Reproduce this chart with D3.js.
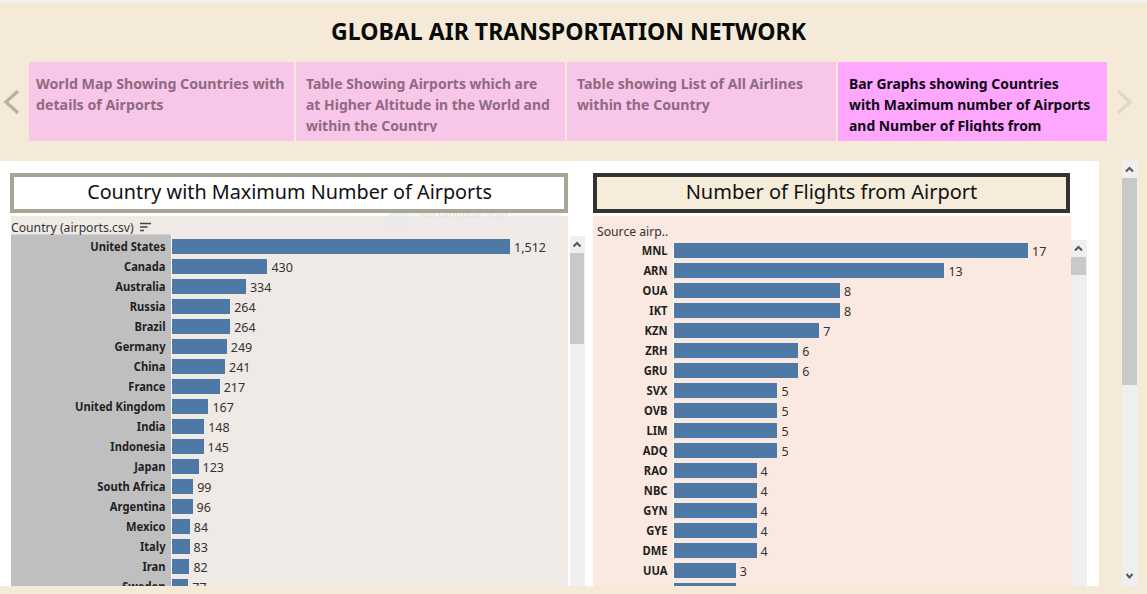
<!DOCTYPE html>
<html><head><meta charset="utf-8">
<script src="https://cdn.jsdelivr.net/npm/d3@7/dist/d3.min.js"></script>
<style>
html,body{margin:0;padding:0;background:#f5ead8;overflow:hidden}
svg{display:block}
text{font-family:"Noto Sans",sans-serif}
.lab text{font-weight:700;font-size:12px;fill:#1f1f1f}
.val{font-size:12.5px;fill:#333}
</style></head><body>
<svg id="c" width="1147" height="594"></svg>
<script>
const countries=["United States","Canada","Australia","Russia","Brazil","Germany","China","France","United Kingdom","India","Indonesia","Japan","South Africa","Argentina","Mexico","Italy","Iran","Sweden"];
const airportCounts=[1512,430,334,264,264,249,241,217,167,148,145,123,99,96,84,83,82,77];
const sourceAirports=["MNL","ARN","OUA","IKT","KZN","ZRH","GRU","SVX","OVB","LIM","ADQ","RAO","NBC","GYN","GYE","DME","UUA"," "];
const flightCounts=[17,13,8,8,7,6,6,5,5,5,5,4,4,4,4,4,3,3];
const tabs=[
 ["World Map Showing Countries with","details of Airports"],
 ["Table Showing Airports which are","at Higher Altitude in the World and","within the Country"],
 ["Table showing List of All Airlines","within the Country"],
 ["Bar Graphs showing Countries","with Maximum number of Airports","and Number of Flights from"]];
const svg=d3.select("#c");
const R=(g,x,y,w,h,f)=>g.append("rect").attr("x",x).attr("y",y).attr("width",w).attr("height",h).attr("fill",f);
const fmt=d3.format(",");
// narrow a text horizontally, as the reference's condensed face is narrower than Noto Sans
const squeeze=(sel,k)=>sel.each(function(){this.setAttribute("textLength",this.getComputedTextLength()*k);this.setAttribute("lengthAdjust","spacingAndGlyphs");});
R(svg,0,0,1147,2,"#f2f2f2");
R(svg,0,2,1147,592,"#f5ead8");
svg.append("text").attr("x",568.5).attr("y",40).attr("text-anchor","middle").style("font-size","24px").style("font-weight",700).attr("fill","#0a0a0a").attr("textLength",475).attr("lengthAdjust","spacingAndGlyphs").text("GLOBAL AIR TRANSPORTATION NETWORK");
// tabs
const tabX=[29,296,567,838],tabW=[265,269,269,269],tabPad=[7,10,10,11],tabSqueeze=[.947,.93,.942,.928];
const defs=svg.append("defs");
tabs.forEach((t,i)=>{
 const active=i===3;
 defs.append("clipPath").attr("id","t"+i).append("rect").attr("x",tabX[i]).attr("y",62).attr("width",tabW[i]).attr("height",70);
 R(svg,tabX[i],62,tabW[i],79,active?"#ffa6ff":"#f8c6e8");
 const g=svg.append("g").attr("clip-path",`url(#t${i})`);
 t.forEach((s,j)=>g.append("text").attr("x",tabX[i]+tabPad[i]).attr("y",89+21*j).style("font-size","15px").style("font-weight",700).attr("fill",active?"#0d0a14":"#8f6a80").text(s).call(squeeze,tabSqueeze[i]));
});
const chev=(pts,c)=>svg.append("path").attr("d",d3.line()(pts)).attr("fill","none").attr("stroke",c).attr("stroke-width",3.5);
chev([[18,91],[6,102],[18,113]],"#b5b3a8");
chev([[1118,91],[1130,102],[1118,113]],"#dcd9cc");
// white content
R(svg,0,161,1099,425,"#fff");
// headers
function head(x,w,fill,stroke,sw,txt,tx,size){
 svg.append("rect").attr("x",x+sw/2).attr("y",173+sw/2).attr("width",w-sw).attr("height",40-sw).attr("fill",fill).attr("stroke",stroke).attr("stroke-width",sw);
 svg.append("text").attr("x",tx).attr("y",199).attr("text-anchor","middle").style("font-size",size+"px").attr("fill","#111").text(txt);
}
head(10,558,"#fff","#a9a596",4,"Country with Maximum Number of Airports",289.5,19.8);
head(593,477,"#f5ecda","#333333",4,"Number of Flights from Airport",831.5,20);
// chart panels
function panel(o){
 R(svg,o.px,216,o.pw,370,o.bg);
 if(o.labBg)R(svg,o.px,o.top-2,o.labW,586-o.top+2,o.labBg);
 const y=d3.scaleBand().domain(o.cats).range([o.top,o.top+20*o.cats.length]).paddingInner(.25).paddingOuter(.125);
 const x=d3.scaleLinear().domain([0,o.max]).range([0,o.barW]);
 const g=svg.append("g");
 const ax=g.append("g").attr("class","lab").attr("transform",`translate(${o.ax-.5},.8)`).call(d3.axisLeft(y).tickSize(0).tickPadding(5));
 ax.select(".domain").remove();
 ax.selectAll("text").call(squeeze,.93);
 g.selectAll(".b").data(o.cats).join("rect").attr("x",o.bx).attr("y",d=>y(d)).attr("height",y.bandwidth()).attr("width",(d,i)=>x(o.vals[i])).attr("fill","#4e79a7").attr("shape-rendering","crispEdges");
 g.selectAll(".val").data(o.cats).join("text").attr("class","val").attr("x",(d,i)=>o.bx+x(o.vals[i])+4).attr("y",d=>y(d)+y.bandwidth()/2+5.2).text((d,i)=>fmt(o.vals[i]));
 g.append("line").attr("x1",o.ax+.5).attr("x2",o.ax+.5).attr("y1",o.top-2).attr("y2",586).attr("stroke","#fff");
}
panel({px:11,pw:557,bg:"#efeae6",labBg:"#bfbfbf",labW:160,top:236.5,ax:171,bx:171,barW:339,max:1512,cats:countries,vals:airportCounts});
panel({px:593,pw:478,bg:"#f9e9e0",top:240.5,ax:673,bx:673,barW:355,max:17,cats:sourceAirports,vals:flightCounts});
// faint screen-snip tooltip left in the screenshot
defs.append("clipPath").attr("id","snip").append("rect").attr("x",388).attr("y",213).attr("width",174).attr("height",12);
const snip=svg.append("g").attr("clip-path","url(#snip)");
R(snip,388,213,174,3,"#f7f7f7");
R(snip,388,216,174,9,"#eeebe8");
R(snip,388,213,22,3,"#f1f2f5");
R(snip,388,216,22,9,"#eaeaec");
snip.append("text").attr("x",420).attr("y",218).style("font-size","11px").attr("fill","#e6e3e0").text("Rectangular Snip");
svg.append("text").attr("x",11).attr("y",232).style("font-size","12.2px").attr("fill","#333").text("Country (airports.csv)");
svg.append("path").attr("d","M140 223.5h11M140 227h7.5M140 230.5h4").attr("stroke","#444").attr("stroke-width",1.5);
svg.append("text").attr("x",597).attr("y",236).style("font-size","12.2px").attr("fill","#333").text("Source airp..");
// scrollbars
function sb(x,w,y0,t0,t1){
 R(svg,x,y0,w,586-y0,"#efefef");
 R(svg,x,t0,w-1,t1-t0,"#c9c9c9");
 const c=x+w/2-.5;
 svg.append("path").attr("d",`M${c-3.5} ${y0+10.5}L${c} ${y0+7}L${c+3.5} ${y0+10.5}`).attr("fill","none").attr("stroke","#555").attr("stroke-width",2);
}
sb(570,15,236,253,344);
sb(1071,16,240,257,275);
sb(1122,16,161,178,385);
svg.append("path").attr("d","M1126.5 574L1129.5 577.5L1132.5 574").attr("fill","none").attr("stroke","#555").attr("stroke-width",2);
R(svg,0,586,1147,8,"#f5ead8");
</script></body></html>
